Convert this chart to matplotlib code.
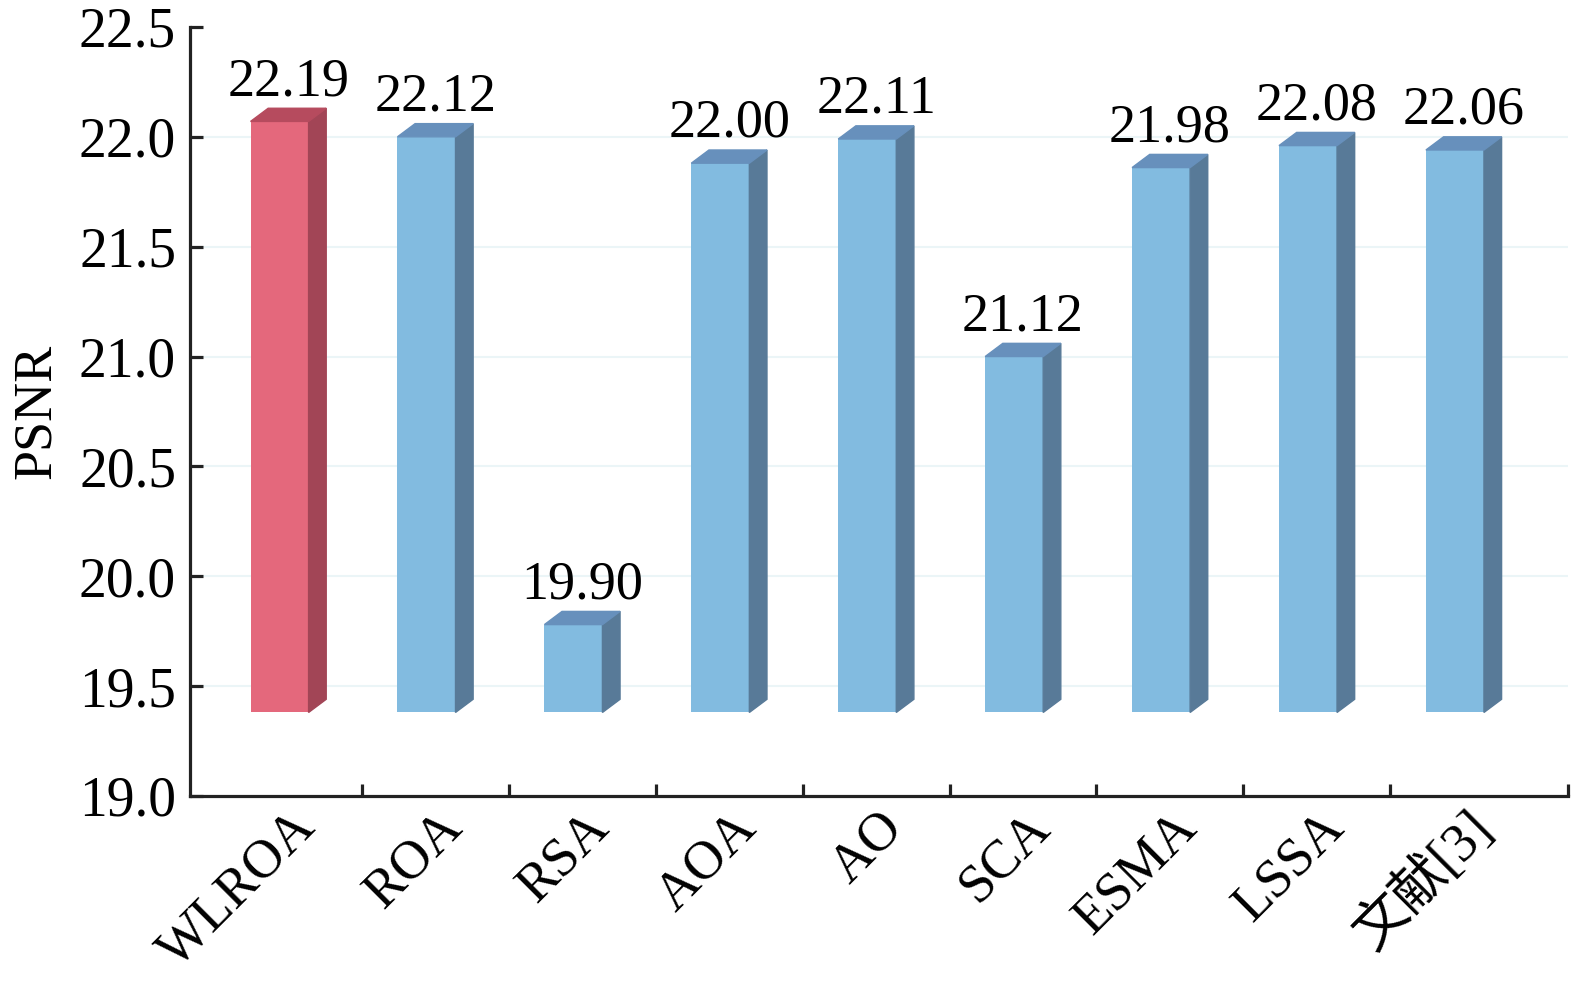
import matplotlib.pyplot as plt
from matplotlib.patches import Polygon

plt.rcParams['font.family'] = ['Liberation Serif', 'Noto Sans CJK SC']

# PSNR of each algorithm
algos = ['WLROA', 'ROA', 'RSA', 'AOA', 'AO', 'SCA', 'ESMA', 'LSSA', '文献[3]']
psnr = [22.19, 22.12, 19.90, 22.00, 22.11, 21.12, 21.98, 22.08, 22.06]
yticks = [19.0, 19.5, 20.0, 20.5, 21.0, 21.5, 22.0, 22.5]

# pseudo-3d bar look
base = 19.38
drop = 0.12      # front face top sits a bit below the value
w = 0.395        # front face width
dx, dy = 0.12, 0.06
face = {'red': ('#E4687C', '#A24556', '#B64B5E'), 'blue': ('#82BBE0', '#587A98', '#6790BC')}

fig = plt.figure(figsize=(15.75, 9.91), dpi=100)
ax = fig.add_axes([0.1206, 0.1968, 0.875, 0.7760])

for g in yticks[1:-1]:
    ax.axhline(g, color='#ebf5f7', lw=1.5, zorder=0)

for i, v in enumerate(psnr):
    front, side, top = face['red'] if i == 0 else face['blue']
    x0 = i - (w + dx) / 2
    x1 = x0 + w
    t = v - drop
    ax.bar(x0, t - base, bottom=base, width=w, align='edge', color=front, zorder=2)
    ax.add_patch(Polygon([(x1, base), (x1 + dx, base + dy), (x1 + dx, t + dy), (x1, t)],
                         closed=True, color=side, zorder=2))
    ax.add_patch(Polygon([(x0, t), (x1, t), (x1 + dx, t + dy), (x0 + dx, t + dy)],
                         closed=True, color=top, zorder=2))
    ax.text(i, v, f'{v:.2f}', ha='center', va='baseline', fontsize=39, zorder=3)

ax.set_xlim(-0.67, 8.71)
ax.set_ylim(19.0, 22.5)
ax.set_yticks(yticks)
ax.set_yticklabels([f'{y:.1f}' for y in yticks], fontsize=40)
ax.set_xticks([i + 0.5 for i in range(8)] + [8.71])
ax.set_xticklabels([])

for i, name in enumerate(algos):
    ax.text(i + 0.01, -0.008, name, transform=ax.get_xaxis_transform(),
            rotation=45, rotation_mode='anchor', ha='right', va='top', fontsize=39)

ax.set_ylabel('PSNR', fontsize=39, labelpad=12)

for s in ['top', 'right']:
    ax.spines[s].set_visible(False)
for s in ['left', 'bottom']:
    ax.spines[s].set_linewidth(2.3)
    ax.spines[s].set_color('#222222')
ax.tick_params(direction='in', length=9, width=2.3, color='#222222', pad=10)

fig.savefig('out.png', dpi=100)
